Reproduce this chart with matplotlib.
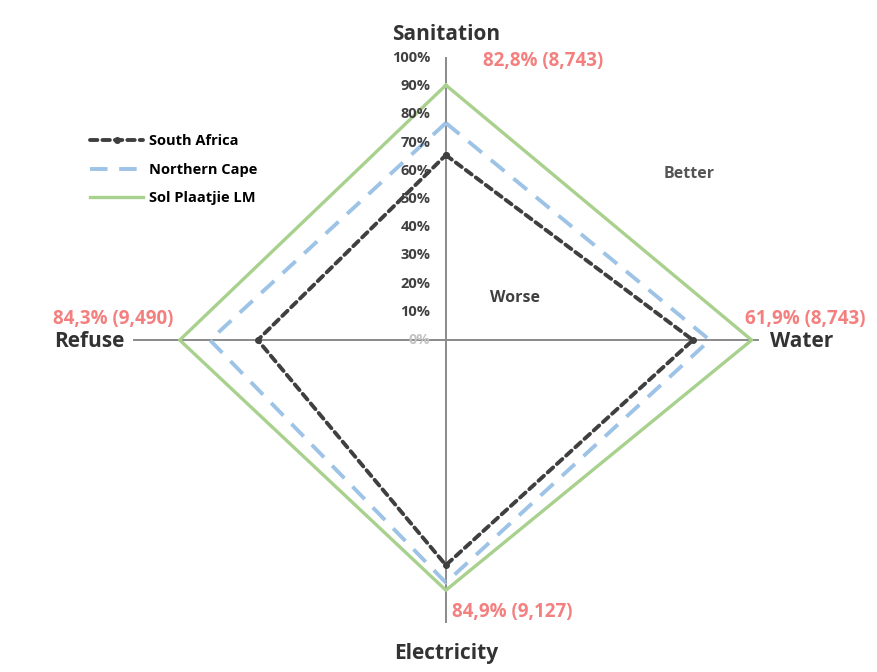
import numpy as np
import matplotlib.pyplot as plt

# axes of the radar, clockwise from the top
categories = ["Sanitation", "Water", "Electricity", "Refuse"]
south_africa = [65.6, 79.2, 79.8, 60.3]
northern_cape = [77.0, 84.6, 86.0, 75.6]
sol_plaatje = [90.4, 98.0, 88.7, 85.3]
value_labels = ["82,8% (8,743)", "61,9% (8,743)", "84,9% (9,127)", "84,3% (9,490)"]
tick_values = list(range(0, 101, 10))

angles = np.deg2rad([0, 90, 180, 270])


def to_xy(values):
    """radar value -> cartesian point, closed polygon"""
    vals = np.append(values, values[0])
    ang = np.append(angles, angles[0])
    return vals * np.sin(ang), vals * np.cos(ang)


plt.rcParams['font.family'] = ['Open Sans', 'DejaVu Sans']

fig = plt.figure(figsize=(8.78, 6.72), dpi=100)
ax = fig.add_axes([0, 0, 1, 1])
ax.set_xlim(-142.9, 138.5)
ax.set_ylim(-117.7, 120.6)
ax.axis('off')

# spokes
for a in angles:
    ax.plot([0, 100 * np.sin(a)], [0, 100 * np.cos(a)], color='#8a8a8a', lw=1.4, zorder=1)

# series
x, y = to_xy(sol_plaatje)
ax.plot(x, y, color='#a9d18e', lw=2.4, label="Sol Plaatjie LM", zorder=2)
x, y = to_xy(northern_cape)
ax.plot(x, y, color='#9dc3e6', lw=2.8, dashes=(4.5, 3), label="Northern Cape", zorder=3)
x, y = to_xy(south_africa)
ax.plot(x, y, color='#3f3f3f', lw=2.8, dashes=(1.9, 1.3), dash_capstyle='round',
        marker='o', ms=4, label="South Africa", zorder=4)

# tick labels on the vertical spoke
for t in tick_values:
    ax.text(-5, t, f"{t}%", ha='right', va='center', fontsize=10.5, fontweight='bold',
            color='#c4c4c4' if t == 0 else '#404040')

# category labels
cat_style = dict(fontsize=15, fontweight='bold', color='#333333', va='center')
ax.text(0, 108.5, categories[0], ha='center', **cat_style)
ax.text(104, -0.5, categories[1], ha='left', **cat_style)
ax.text(0, -111, categories[2], ha='center', **cat_style)
ax.text(-103, -0.5, categories[3], ha='right', **cat_style)

# value annotations
red = dict(fontsize=13.5, fontweight='bold', color='#f47f7f', va='center', ha='left')
ax.text(12, 99, value_labels[0], **red)
ax.text(96, 7.5, value_labels[1], **red)
ax.text(2, -96.5, value_labels[2], **red)
ax.text(-126, 7.5, value_labels[3], **red)

ax.text(78, 59, "Better", ha='center', va='center', fontsize=11.5, fontweight='bold', color='#555555')
ax.text(22, 15, "Worse", ha='center', va='center', fontsize=11.5, fontweight='bold', color='#404040')

handles, labels = ax.get_legend_handles_labels()
ax.legend(handles[::-1], labels[::-1], loc='upper left', bbox_to_anchor=(0.088, 0.82),
          bbox_transform=fig.transFigure, frameon=False,
          handlelength=3.6, handletextpad=0.4, labelspacing=1.0,
          prop={'weight': 'bold', 'size': 10.5})

fig.savefig("out.png", dpi=100)
